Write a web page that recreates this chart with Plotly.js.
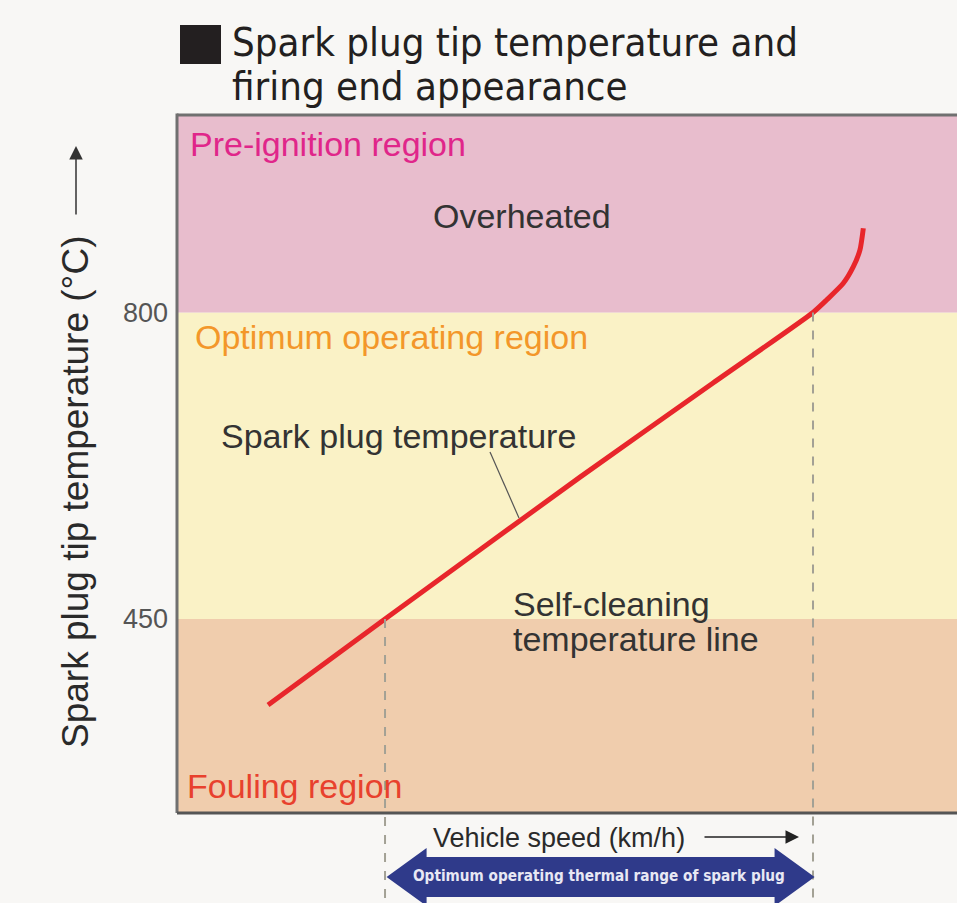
<!DOCTYPE html>
<html>
<head>
<meta charset="utf-8">
<script src="https://cdn.plot.ly/plotly-3.0.1.min.js"></script>
<style>
  html, body { margin: 0; padding: 0; background: #f8f7f5; }
  #chart { width: 957px; height: 903px; }
</style>
</head>
<body>
<div id="chart"></div>
<script>
// ---------- data ----------
const titleLines = ['Spark plug tip temperature and', 'firing end appearance'];
const speed = [11.67, 26.67, 51.67, 68.72, 81.54, 83.29, 85.42, 86.71, 87.56, 87.99];
const temp  = [351.8, 450.0, 612.0, 719.5, 800.0, 814.3, 833.3, 852.3, 871.4, 896.2];
const bandLimits = [450, 800];
const bandNames = ['Fouling region', 'Optimum operating region', 'Pre-ignition region'];
const tickVals = [450, 800];
const tickText = ['450', '800'];
const yTitle = 'Spark plug tip temperature (°C)';
const xTitle = 'Vehicle speed (km/h)';
const rangeLabel = 'Optimum operating thermal range of spark plug';
const curveLabel = 'Spark plug temperature';
const overLabel = 'Overheated';
const selfCleanLines = ['Self-cleaning', 'temperature line'];

// ---------- layout geometry ----------
const W = 957, H = 903;
const M = {l: 177, r: 0, t: 115, b: 90};
const PW = W - M.l - M.r, PH = H - M.t - M.b;
const yRange = [228.5, 1025.5];
const xRange = [0, 100];
const FONT = '"Liberation Sans", Arial, Helvetica, sans-serif';
const NARROW = '"Liberation Sans Narrow", "DejaVu Sans Condensed", "Liberation Sans", Arial, sans-serif';

const pxX = px => (px - M.l) / PW;            // pixel -> paper x
const pxY = py => (M.t + PH - py) / PH;       // pixel -> paper y
const dX = px => xRange[0] + (px - M.l) / PW * (xRange[1] - xRange[0]); // pixel -> data x
const dY = py => yRange[0] + (M.t + PH - py) / PH * (yRange[1] - yRange[0]);
const v2p = v => (v - yRange[0]) / (yRange[1] - yRange[0]);

function crossAt(t) {
  for (let i = 0; i < temp.length - 1; i++) {
    if (temp[i] <= t && temp[i + 1] >= t) {
      return speed[i] + (t - temp[i]) / (temp[i + 1] - temp[i]) * (speed[i + 1] - speed[i]);
    }
  }
  return null;
}
const cv = document.createElement('canvas').getContext('2d');
function fitSize(text, family, target, weight) {
  cv.font = (weight || '') + ' 100px ' + family;
  return 100 * target / cv.measureText(text).width;
}

const xLow = crossAt(bandLimits[0]);
const xHigh = crossAt(bandLimits[1]);

// ---------- shapes ----------
const shapes = [];
const bandColors = ['#f0cdad', '#faf2c6', '#e8bdcd'];
const bandEdges = [yRange[0], bandLimits[0], bandLimits[1], yRange[1]];
for (let i = 0; i < 3; i++) {
  shapes.push({type: 'rect', xref: 'paper', yref: 'y', x0: 0, x1: 1,
    y0: bandEdges[i], y1: bandEdges[i + 1], fillcolor: bandColors[i],
    line: {width: 0}, layer: 'below'});
}
// dashed guide lines
[[xLow, bandLimits[0]], [xHigh, bandLimits[1]]].forEach(([xv, yv]) => {
  shapes.push({type: 'line', xref: 'x', yref: 'paper', x0: xv, x1: xv,
    y0: v2p(yv), y1: pxY(H + 2), line: {color: '#a3a195', width: 2, dash: '9px,9px'}, layer: 'above'});
});
// frame lines
shapes.push({type: 'line', xref: 'paper', yref: 'paper', x0: 0, x1: 1, y0: 1, y1: 1, line: {color: '#707070', width: 3}});
shapes.push({type: 'line', xref: 'paper', yref: 'paper', x0: 0, x1: 0, y0: 0, y1: 1.002, line: {color: '#707070', width: 3}});
shapes.push({type: 'line', xref: 'paper', yref: 'paper', x0: 0, x1: 1, y0: 0, y1: 0, line: {color: '#555555', width: 3}});
// title square
shapes.push({type: 'rect', xref: 'paper', yref: 'paper', x0: pxX(180), x1: pxX(221),
  y0: pxY(64), y1: pxY(25), fillcolor: '#231f20', line: {width: 0}});
// leader line for curve label
shapes.push({type: 'line', xref: 'x', yref: 'y', x0: dX(490), y0: dY(452), x1: dX(519), y1: dY(518),
  line: {color: '#555', width: 1.2}});
// blue double arrow
(function () {
  const yc = pxY(877), hb = 20 / PH, hh = 29 / PH;
  const head = 40 / PW * (xRange[1] - xRange[0]);
  const a = xLow + 0.2, b = xHigh + 0.2;
  const p = `M ${a},${yc} L ${a + head},${yc + hh} L ${a + head},${yc + hb} L ${b - head},${yc + hb} ` +
            `L ${b - head},${yc + hh} L ${b},${yc} L ${b - head},${yc - hh} L ${b - head},${yc - hb} ` +
            `L ${a + head},${yc - hb} L ${a + head},${yc - hh} Z`;
  shapes.push({type: 'path', xref: 'x', yref: 'paper', path: p, fillcolor: '#2f3a8a', line: {width: 0}});
})();

// ---------- annotations ----------
const titleSize = fitSize(titleLines[0], NARROW, 566);
const rangeSize = Math.min(17, fitSize(rangeLabel, NARROW, 372, 'bold'));
const ann = [];
function txt(text, x, y, size, color, opts) {
  return Object.assign({text: text, x: x, y: y, xref: 'paper', yref: 'paper', showarrow: false,
    xanchor: 'left', yanchor: 'middle', font: {family: FONT, size: size, color: color}}, opts || {});
}
ann.push(txt(titleLines[0], pxX(230), pxY(42), titleSize, '#231f20', {font: {family: NARROW, size: titleSize, color: '#231f20'}}));
ann.push(txt(titleLines[1], pxX(230), pxY(86), titleSize, '#231f20', {font: {family: NARROW, size: titleSize, color: '#231f20'}}));
ann.push(txt(bandNames[2], pxX(188), pxY(144), 34, '#e0268a'));
ann.push(txt(overLabel, pxX(431), pxY(216), 34, '#333333'));
ann.push(txt(bandNames[1], pxX(193), pxY(337), 34, '#f3972a'));
ann.push(txt(curveLabel, pxX(219), pxY(436), 34, '#333333'));
ann.push(txt(selfCleanLines[0], pxX(511), pxY(604), 34, '#333333'));
ann.push(txt(selfCleanLines[1], pxX(511), pxY(639), 34, '#333333'));
ann.push(txt(bandNames[0], pxX(185), pxY(786), 34, '#e8412d'));
// y title + up arrow
ann.push(txt(yTitle, pxX(76), pxY(492), 37, '#2a2a2a', {xanchor: 'center', textangle: -90}));
ann.push({x: pxX(76), y: pxY(146), xref: 'paper', yref: 'paper', text: '', showarrow: true,
  ax: 0, ay: 70, arrowhead: 2, arrowsize: 1.8, arrowwidth: 1.5, arrowcolor: '#333'});
// x title + right arrow
ann.push(txt(xTitle, pxX(431), pxY(838), 27, '#2a2a2a'));
ann.push({x: pxX(799), y: pxY(837), xref: 'paper', yref: 'paper', text: '', showarrow: true,
  ax: -96, ay: 0, arrowhead: 2, arrowsize: 1.8, arrowwidth: 1.5, arrowcolor: '#222'});
// range label
ann.push({text: '<b>' + rangeLabel + '</b>', x: (xLow + xHigh) / 2, y: pxY(876), xref: 'x', yref: 'paper',
  showarrow: false, xanchor: 'center', yanchor: 'middle',
  font: {family: NARROW, size: rangeSize, color: '#e8e8f4'}});

// ---------- plot ----------
const trace = {x: speed, y: temp, type: 'scatter', mode: 'lines',
  line: {color: '#e8262b', width: 5, shape: 'spline', smoothing: 0.6}, hoverinfo: 'skip'};

const layout = {
  width: W, height: H, margin: M,
  paper_bgcolor: '#f8f7f5', plot_bgcolor: 'rgba(0,0,0,0)',
  showlegend: false,
  font: {family: FONT},
  xaxis: {range: xRange, showgrid: false, zeroline: false, showticklabels: false, ticks: '', showline: false, fixedrange: true},
  yaxis: {range: yRange, showgrid: false, zeroline: false, showline: false, ticks: '',
    tickvals: tickVals, ticktext: tickText, ticklabelstandoff: 8,
    tickfont: {family: FONT, size: 27, color: '#555555'}, fixedrange: true},
  shapes: shapes,
  annotations: ann
};

Plotly.newPlot('chart', [trace], layout, {staticPlot: true, displayModeBar: false});
</script>
</body>
</html>
